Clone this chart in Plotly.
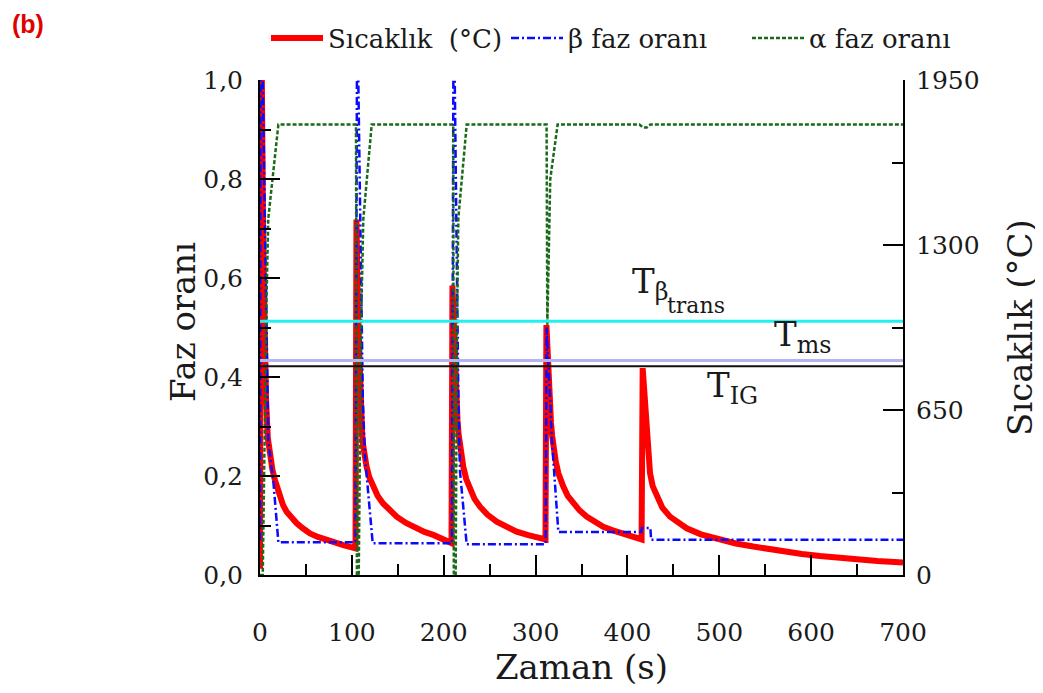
import plotly.graph_objects as go

# ---------------- data ----------------
time_temp = [0, 0.8, 2, 3.5, 5, 6.5, 8.5, 10, 11.6, 13.5, 16.3, 19, 21.8, 25, 29, 34, 40, 47,
             54.4, 63, 72.6, 81, 90.7, 104,
             105, 106.5, 108.3, 110, 111.2, 112.5, 114, 116, 119, 123.4, 128, 134, 141, 148.8,
             159, 170.6, 179, 188.7, 198, 208.5,
             209.5, 211, 213, 215, 216.2, 217.7, 219.3, 221.3, 224.5, 228.6, 233.5, 239.5, 247.5,
             257.7, 268, 279.4, 292, 304.8, 310.8,
             311.8, 313.2, 314.8, 316.8, 318, 319.3, 321.8, 324.8, 327.3, 330.2, 335, 341.1, 348,
             355.6, 364, 373.7, 384, 395.5, 405, 415.4,
             416.6, 418, 419.5, 421, 422.5, 424.6, 427.5, 431.8, 438, 446.3, 455, 464.5, 480,
             500.8, 518, 537, 555, 573.4, 590, 609.6, 628, 645.9, 672, 700]
temperature = [25, 2000, 1950, 1300, 900, 700, 540, 490, 453, 415, 374, 338, 308, 276, 249, 225, 204, 183,
               164, 150, 138, 127, 118, 105,
               1400, 1050, 768, 620, 555, 506, 465, 427, 385, 348, 312, 282, 255, 230,
               205, 184, 170, 158, 142, 126,
               1140, 950, 768, 610, 555, 506, 465, 427, 378, 335, 300, 269, 238,
               210, 189, 171, 157, 144, 140,
               985, 850, 720, 600, 550, 506, 450, 401, 372, 348, 312, 282, 254,
               230, 209, 190, 176, 164, 153, 140,
               815, 740, 660, 560, 480, 401, 350, 309, 265, 230, 205, 184, 160,
               138, 124, 112, 101, 92, 83, 75, 68, 62, 55, 49]

time_beta = [0, 0.5, 3, 7.7, 9, 14.5, 18.1, 20, 104,
             105.5, 107, 112, 114.3, 122.7, 209,
             210.5, 212, 216, 217.7, 225, 311,
             312, 316, 317.5, 324.8, 415,
             415.8, 425, 425.8, 700]
beta_frac = [0.07, 1.0, 1.0, 0.39, 0.27, 0.19, 0.11, 0.066, 0.066,
             1.0, 1.0, 0.35, 0.239, 0.064, 0.064,
             1.0, 1.0, 0.35, 0.21, 0.062, 0.062,
             0.50, 0.35, 0.28, 0.087, 0.087,
             0.095, 0.095, 0.071, 0.071]

time_alpha = [0, 3, 7, 9, 20, 104.5,
              105.5, 107.5, 110, 112.5, 121.6, 210.4,
              211, 213, 214.5, 215.9, 225, 312,
              312.8, 315, 316, 324, 413, 417, 421, 425, 700]
alpha_frac = [0, 0, 0.55, 0.72, 0.91, 0.91,
              0, 0, 0.5, 0.72, 0.91, 0.91,
              0, 0, 0.5, 0.72, 0.91, 0.91,
              0.505, 0.72, 0.80, 0.91, 0.91, 0.904, 0.904, 0.91, 0.91]

ref_names = ["Tβtrans", "Tms", "TIG"]
ref_temps = [1000, 845, 822]
ref_colors = ["#22f0f0", "#b4b4f4", "#111111"]
ref_widths = [3, 3, 2]

x_range = [0, 700]
x_ticks = [0, 100, 200, 300, 400, 500, 600, 700]
frac_ticks = [0.0, 0.2, 0.4, 0.6, 0.8, 1.0]
temp_ticks = [0, 650, 1300, 1950]

FONT = "DejaVu Serif"
TXT = "#1a1a1a"
PAGE_OFF = 8  # default body margin of the written page

fig = go.Figure()

fig.add_trace(go.Scatter(x=time_temp, y=temperature, mode="lines", yaxis="y",
                         name="Sıcaklık\u00a0 (°C)", legend="legend",
                         line=dict(color="#ff0000", width=6)))
fig.add_trace(go.Scatter(x=time_beta, y=beta_frac, mode="lines", yaxis="y2",
                         name="β faz oranı", legend="legend2",
                         line=dict(color="#0a0aff", width=2.5, dash="8px,3px,2px,3px")))
fig.add_trace(go.Scatter(x=time_alpha, y=alpha_frac, mode="lines", yaxis="y2",
                         name="α faz oranı", legend="legend3",
                         line=dict(color="#1a6a1a", width=2.5, dash="4px,2px")))
for nm, tv, c, w in zip(ref_names, ref_temps, ref_colors, ref_widths):
    fig.add_trace(go.Scatter(x=x_range, y=[tv, tv], mode="lines", yaxis="y3",
                             name=nm, showlegend=False, hoverinfo="skip",
                             line=dict(color=c, width=w)))

tickfont = dict(family=FONT, size=25, color=TXT)
titlefont = dict(family=FONT, size=34, color=TXT)


def leg(xpx):
    return dict(orientation="h", xref="container", yref="container",
                x=(xpx - PAGE_OFF) / 1043, y=1 - (38 - PAGE_OFF) / 693,
                xanchor="left", yanchor="middle",
                itemwidth=52, font=dict(family=FONT, size=26, color=TXT),
                bgcolor="rgba(0,0,0,0)")


fig.update_layout(
    width=1043, height=693,
    margin=dict(l=252, r=148, t=72, b=126, autoexpand=False),
    paper_bgcolor="white", plot_bgcolor="white",
    separators=",.",
    showlegend=True,
    legend=leg(266), legend2=leg(506), legend3=leg(747),
    xaxis=dict(range=x_range, tickvals=x_ticks, ticks="inside", ticklen=20, tickwidth=2,
               tickcolor="black", showline=True, linewidth=2, linecolor="black",
               showgrid=False, zeroline=False, mirror=False,
               minor=dict(dtick=50, tick0=0, ticks="inside", ticklen=11, tickwidth=2,
                          tickcolor="black", showgrid=False),
               tickfont=tickfont, ticklabelstandoff=34,
               title=dict(text="Zaman (s)", font=titlefont, standoff=2)),
    yaxis=dict(range=[0, 1950], side="right", tickvals=temp_ticks, ticks="inside",
               ticklen=20, tickwidth=2, tickcolor="black", showline=True, linewidth=2,
               linecolor="black", showgrid=False, zeroline=False,
               minor=dict(dtick=325, tick0=0, ticks="inside", ticklen=11, tickwidth=2,
                          tickcolor="black", showgrid=False),
               tickfont=tickfont, ticklabelstandoff=6,
               title=dict(text="Sıcaklık (°C)", font=titlefont, standoff=30)),
    yaxis2=dict(range=[0, 1], overlaying="y", side="left", tickvals=frac_ticks,
                tickformat=".1f", ticks="inside", ticklen=20, tickwidth=2,
                tickcolor="black", showline=True, linewidth=2, linecolor="black",
                showgrid=False, zeroline=False,
                minor=dict(dtick=0.1, tick0=0, ticks="inside", ticklen=11, tickwidth=2,
                           tickcolor="black", showgrid=False),
                tickfont=tickfont, ticklabelstandoff=10),
    yaxis3=dict(range=[0, 1950], overlaying="y", visible=False),
)

ann = [
    dict(text="<b>(b)</b>", xref="paper", yref="paper", x=-0.389, y=1.113,
         xanchor="left", yanchor="middle", showarrow=False,
         font=dict(family="Liberation Sans", size=25, color="#e00000")),
    dict(text="Faz oranı", xref="paper", yref="paper", x=-0.12, y=0.511,
         xanchor="center", yanchor="middle", textangle=-90, showarrow=False,
         font=titlefont),
    dict(text="T<sub>β</sub>", xref="x", yref="y", x=403, y=1150,
         xanchor="left", yanchor="middle", showarrow=False, font=titlefont),
    dict(text="trans", xref="x", yref="y", x=441, y=1060,
         xanchor="left", yanchor="middle", showarrow=False,
         font=dict(family=FONT, size=22, color=TXT)),
    dict(text="T<sub>ms</sub>", xref="x", yref="y", x=557, y=940,
         xanchor="left", yanchor="middle", showarrow=False, font=titlefont),
    dict(text="T<sub>IG</sub>", xref="x", yref="y", x=484, y=740,
         xanchor="left", yanchor="middle", showarrow=False, font=titlefont),
]
fig.update_layout(annotations=ann)

fig.write_html("out.html")
